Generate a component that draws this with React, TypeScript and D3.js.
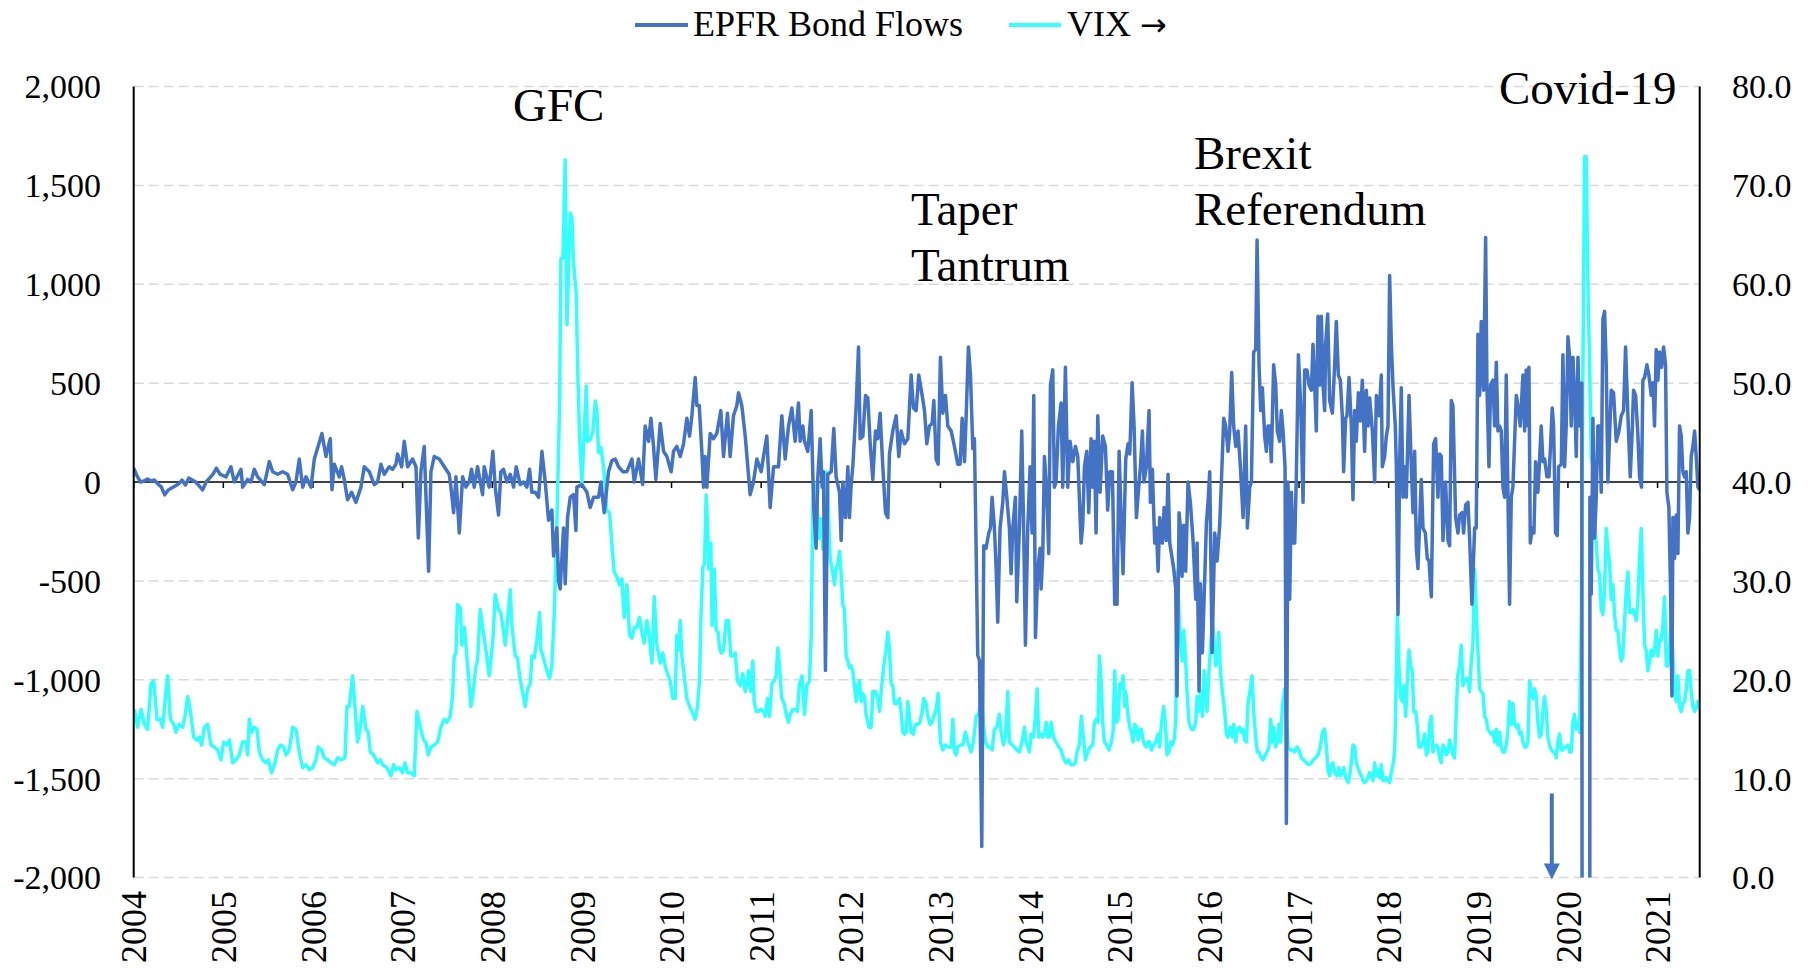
import React, { useEffect } from 'react';
import * as d3 from 'd3';

// ---------- axis definitions ----------
const yearLabels = d3.range(2004, 2022);
const leftTicks = [-2000, -1500, -1000, -500, 0, 500, 1000, 1500, 2000];
const rightTicks = [0, 10, 20, 30, 40, 50, 60, 70, 80];
const xDomain: [number, number] = [2004, 2021.47];

// ---------- EPFR Bond Flows [decimal year, value] ----------
const flows2004to2007: [number, number][] = [
  [2004.000,70],[2004.038,30],[2004.077,0],[2004.115,5],[2004.154,15],[2004.192,5],[2004.231,10],[2004.269,-10],[2004.308,-25],[2004.346,-65],[2004.385,-40],[2004.423,-30],[2004.462,-20],[2004.500,-10],[2004.538,10],[2004.577,-15],[2004.615,20],[2004.654,10],[2004.692,0],[2004.731,-20],[2004.769,-40],[2004.808,0],[2004.846,20],[2004.885,40],[2004.923,70],[2004.962,40],
  [2005.030,26],[2005.085,77],[2005.122,0],[2005.197,64],[2005.215,-26],[2005.271,13],[2005.308,0],[2005.345,64],[2005.383,26],[2005.457,-13],[2005.513,103],[2005.550,52],[2005.606,39],[2005.662,52],[2005.717,39],[2005.773,-39],[2005.810,0],[2005.847,116],[2005.885,-26],[2005.922,26],[2005.978,-26],
  [2006.015,116],[2006.100,245],[2006.145,129],[2006.193,219],[2006.212,-39],[2006.238,90],[2006.293,26],[2006.319,77],[2006.349,13],[2006.386,-90],[2006.431,-52],[2006.479,-103],[2006.535,-26],[2006.572,77],[2006.628,52],[2006.684,-13],[2006.721,0],[2006.758,90],[2006.795,39],[2006.851,77],[2006.888,64],[2006.925,90],[2006.944,142],[2006.989,77],
  [2007.018,206],[2007.056,77],[2007.111,116],[2007.149,77],[2007.175,-283],[2007.204,52],[2007.241,180],[2007.290,-451],[2007.316,52],[2007.353,129],[2007.409,116],[2007.465,77],[2007.520,39],[2007.539,-26],[2007.569,-155],[2007.595,26],[2007.632,-258],[2007.669,26],[2007.706,-26],[2007.743,0],[2007.769,64],[2007.799,-26],[2007.836,77],[2007.892,-64],[2007.910,77],[2007.966,-26],
];

const flows2008to2010: [number, number][] = [
  [2008.007,155],[2008.033,-26],[2008.070,-167],[2008.096,52],[2008.126,64],[2008.163,0],[2008.201,39],[2008.238,-26],[2008.267,77],[2008.312,-13],[2008.349,0],[2008.386,-26],[2008.416,64],[2008.442,-52],[2008.479,-52],[2008.517,-77],[2008.554,155],[2008.591,0],[2008.628,-193],[2008.665,-142],[2008.684,-374],[2008.721,-232],[2008.740,-503],[2008.758,-541],[2008.795,-232],[2008.814,-515],[2008.840,-180],[2008.870,-77],[2008.907,-64],[2008.933,-245],[2008.944,-26],
  [2009.000,-13],[2009.019,-26],[2009.056,-52],[2009.093,-129],[2009.130,-77],[2009.186,-77],[2009.212,0],[2009.249,-155],[2009.297,52],[2009.334,108],[2009.372,116],[2009.409,77],[2009.457,52],[2009.502,52],[2009.558,116],[2009.584,0],[2009.632,116],[2009.677,-13],[2009.706,283],[2009.744,206],[2009.770,322],[2009.799,180],[2009.825,13],[2009.874,296],[2009.911,155],[2009.948,129],[2009.996,52],
  [2010.022,155],[2010.059,180],[2010.097,129],[2010.134,193],[2010.171,322],[2010.201,232],[2010.227,335],[2010.264,528],[2010.283,387],[2010.309,387],[2010.338,155],[2010.357,-26],[2010.375,129],[2010.394,-26],[2010.431,245],[2010.468,219],[2010.505,245],[2010.550,361],[2010.580,129],[2010.624,348],[2010.654,129],[2010.691,335],[2010.729,387],[2010.747,451],[2010.784,387],[2010.822,232],[2010.877,-64],[2010.914,0],[2010.952,116],
];

const flows2011to2013: [number, number][] = [
  [2011.000,52],[2011.026,129],[2011.063,232],[2011.100,-129],[2011.138,77],[2011.193,77],[2011.230,335],[2011.268,116],[2011.305,283],[2011.342,374],[2011.379,206],[2011.416,400],[2011.435,206],[2011.465,283],[2011.483,206],[2011.520,155],[2011.558,361],[2011.584,-103],[2011.613,-335],[2011.632,26],[2011.658,219],[2011.680,-26],[2011.695,52],[2011.717,-953],[2011.743,39],[2011.781,52],[2011.810,271],[2011.836,26],[2011.874,-52],[2011.892,-296],[2011.911,0],[2011.941,-180],[2011.967,77],[2011.985,-180],
  [2012.004,-13],[2012.022,77],[2012.041,232],[2012.060,387],[2012.086,683],[2012.104,219],[2012.134,232],[2012.164,438],[2012.190,425],[2012.216,193],[2012.245,13],[2012.275,258],[2012.301,219],[2012.327,348],[2012.357,77],[2012.387,-155],[2012.413,-180],[2012.431,142],[2012.468,258],[2012.506,335],[2012.535,129],[2012.561,258],[2012.599,193],[2012.636,219],[2012.673,541],[2012.699,374],[2012.729,361],[2012.758,541],[2012.796,438],[2012.822,361],[2012.848,193],[2012.877,283],[2012.907,296],[2012.926,412],[2012.952,116],[2012.974,90],
  [2013.000,631],[2013.026,348],[2013.056,438],[2013.082,283],[2013.119,258],[2013.156,180],[2013.193,90],[2013.219,90],[2013.242,322],[2013.268,103],[2013.286,322],[2013.312,683],[2013.335,541],[2013.361,168],[2013.379,219],[2013.416,-876],[2013.435,-902],[2013.461,-1843],[2013.483,-322],[2013.509,-335],[2013.539,-258],[2013.558,-232],[2013.576,-77],[2013.602,-232],[2013.621,-438],[2013.639,-709],[2013.665,-232],[2013.695,-103],[2013.714,52],[2013.740,-77],[2013.769,-232],[2013.788,-464],[2013.807,-232],[2013.836,-77],[2013.851,-606],[2013.881,-232],[2013.907,258],[2013.929,-258],[2013.948,-825],[2013.974,-232],
];

const flows2014to2016: [number, number][] = [
  [2014.000,77],[2014.022,-258],[2014.041,438],[2014.060,-786],[2014.086,-438],[2014.112,-335],[2014.123,-541],[2014.141,-374],[2014.160,129],[2014.186,-52],[2014.208,-361],[2014.227,490],[2014.253,567],[2014.271,-26],[2014.290,0],[2014.316,283],[2014.346,400],[2014.364,-26],[2014.394,580],[2014.420,-26],[2014.446,206],[2014.476,103],[2014.506,180],[2014.532,129],[2014.569,-309],[2014.587,-219],[2014.606,77],[2014.632,155],[2014.654,-155],[2014.680,219],[2014.699,-26],[2014.717,206],[2014.736,-258],[2014.755,335],[2014.781,-52],[2014.810,232],[2014.840,180],[2014.866,-142],[2014.889,52],[2014.918,52],[2014.944,-618],[2014.970,-618],[2014.993,155],
  [2015.019,-232],[2015.037,-464],[2015.067,116],[2015.093,193],[2015.112,142],[2015.138,502],[2015.160,283],[2015.186,-180],[2015.212,-26],[2015.231,77],[2015.253,258],[2015.271,0],[2015.297,77],[2015.327,361],[2015.342,-103],[2015.364,64],[2015.390,-309],[2015.409,-232],[2015.428,-451],[2015.446,-180],[2015.476,-309],[2015.495,-129],[2015.520,-296],[2015.539,39],[2015.558,-309],[2015.576,-361],[2015.602,-438],[2015.625,-541],[2015.639,-1082],[2015.662,-155],[2015.677,-232],[2015.695,-477],[2015.714,-219],[2015.736,-451],[2015.762,0],[2015.788,-103],[2015.818,-296],[2015.848,-593],[2015.863,-309],[2015.885,-1057],[2015.900,-515],[2015.922,-863],[2015.948,-490],[2015.967,-206],[2015.985,-103],
  [2016.004,52],[2016.030,-863],[2016.060,-258],[2016.086,-399],[2016.115,-219],[2016.134,0],[2016.160,322],[2016.182,283],[2016.208,155],[2016.227,258],[2016.249,554],[2016.271,283],[2016.294,180],[2016.320,258],[2016.346,77],[2016.376,-180],[2016.405,283],[2016.424,-232],[2016.450,-26],[2016.469,0],[2016.494,657],[2016.517,670],[2016.532,1224],[2016.554,593],[2016.573,361],[2016.591,477],[2016.617,232],[2016.636,155],[2016.654,283],[2016.673,283],[2016.691,103],[2016.717,593],[2016.740,490],[2016.758,258],[2016.784,206],[2016.803,361],[2016.822,258],[2016.844,77],[2016.859,-1727],[2016.877,0],[2016.896,-593],[2016.915,-52],[2016.933,-309],[2016.952,-309],[2016.970,26],[2016.993,644],
];

const flows2017to2019: [number, number][] = [
  [2017.019,387],[2017.045,-103],[2017.063,567],[2017.089,567],[2017.112,490],[2017.138,464],[2017.156,696],[2017.175,490],[2017.193,258],[2017.212,838],[2017.231,490],[2017.249,838],[2017.268,490],[2017.286,361],[2017.297,696],[2017.320,850],[2017.342,412],[2017.372,348],[2017.398,593],[2017.416,812],[2017.439,541],[2017.461,515],[2017.483,335],[2017.498,52],[2017.520,322],[2017.535,335],[2017.558,528],[2017.584,283],[2017.602,-90],[2017.621,361],[2017.639,206],[2017.662,451],[2017.684,309],[2017.706,515],[2017.732,155],[2017.751,464],[2017.770,283],[2017.788,425],[2017.818,258],[2017.844,0],[2017.863,438],[2017.892,335],[2017.918,541],[2017.929,77],[2017.955,129],[2017.974,232],[2017.993,283],
  [2018.011,1044],[2018.030,696],[2018.048,490],[2018.074,283],[2018.086,77],[2018.104,-670],[2018.123,103],[2018.141,477],[2018.160,-77],[2018.178,77],[2018.197,-77],[2018.227,438],[2018.253,77],[2018.272,-155],[2018.290,155],[2018.309,-335],[2018.327,-438],[2018.364,13],[2018.383,-232],[2018.409,-258],[2018.431,-387],[2018.450,-399],[2018.476,-580],[2018.502,193],[2018.524,219],[2018.550,-77],[2018.569,142],[2018.587,129],[2018.606,-296],[2018.635,0],[2018.662,-296],[2018.680,-322],[2018.699,412],[2018.717,387],[2018.747,-180],[2018.773,-258],[2018.792,-167],[2018.821,-155],[2018.836,-258],[2018.859,-116],[2018.885,-103],[2018.903,-283],[2018.929,-618],[2018.959,-232],[2018.977,-232],[2018.996,747],
  [2019.015,438],[2019.033,812],[2019.059,464],[2019.082,1237],[2019.096,490],[2019.119,77],[2019.137,490],[2019.163,515],[2019.182,283],[2019.201,606],[2019.219,258],[2019.238,283],[2019.256,258],[2019.275,-26],[2019.293,-77],[2019.312,541],[2019.331,-77],[2019.349,-618],[2019.368,-77],[2019.386,-26],[2019.424,438],[2019.442,387],[2019.468,283],[2019.498,541],[2019.517,258],[2019.535,567],[2019.554,283],[2019.565,580],[2019.580,-309],[2019.602,-232],[2019.621,-258],[2019.639,103],[2019.665,-52],[2019.684,116],[2019.702,283],[2019.721,103],[2019.740,116],[2019.766,26],[2019.788,26],[2019.803,155],[2019.825,374],[2019.840,283],[2019.862,-258],[2019.881,-271],[2019.896,77],[2019.926,90],[2019.944,644],[2019.963,77],[2019.981,283],
];

const flows2020to2021: [number, number][] = [
  [2020.000,734],[2020.019,631],[2020.037,283],[2020.056,631],[2020.074,438],[2020.093,129],[2020.112,631],[2020.130,283],[2020.155,500],[2020.168,-12000],[2020.240,-12000],[2020.245,-77],[2020.260,-567],[2020.279,322],[2020.297,-283],[2020.316,-77],[2020.334,283],[2020.353,283],[2020.372,-52],[2020.390,825],[2020.409,863],[2020.427,593],[2020.446,0],[2020.457,142],[2020.483,464],[2020.509,451],[2020.539,206],[2020.569,258],[2020.595,335],[2020.621,361],[2020.643,683],[2020.669,335],[2020.695,26],[2020.717,258],[2020.732,464],[2020.755,438],[2020.781,232],[2020.799,26],[2020.821,-26],[2020.836,515],[2020.855,528],[2020.881,593],[2020.903,541],[2020.929,438],[2020.948,502],[2020.966,283],[2020.985,670],
  [2021.004,515],[2021.022,657],[2021.045,580],[2021.067,683],[2021.089,593],[2021.104,-52],[2021.126,-129],[2021.145,-541],[2021.160,-1082],[2021.171,-180],[2021.190,-387],[2021.208,-167],[2021.227,-361],[2021.245,283],[2021.264,232],[2021.282,52],[2021.301,26],[2021.320,52],[2021.338,-258],[2021.357,-180],[2021.375,129],[2021.394,180],[2021.413,258],[2021.431,129],[2021.450,-26],[2021.468,-40],
];

// ---------- VIX [decimal year, value] ----------
const vix2004to2007: [number, number][] = [
  [2004.007,17.0],[2004.044,15.2],[2004.082,17.0],[2004.119,15.5],[2004.156,15.0],[2004.193,19.6],[2004.223,19.9],[2004.260,16.0],[2004.297,16.0],[2004.323,15.2],[2004.360,18.8],[2004.379,20.4],[2004.409,16.0],[2004.446,15.5],[2004.472,14.7],[2004.509,15.5],[2004.546,15.2],[2004.572,16.3],[2004.602,18.3],[2004.632,16.8],[2004.669,14.2],[2004.706,13.9],[2004.732,14.2],[2004.758,13.4],[2004.788,15.2],[2004.825,15.5],[2004.862,13.4],[2004.899,13.2],[2004.937,12.9],[2004.974,11.9],
  [2005.003,13.7],[2005.041,13.4],[2005.067,13.9],[2005.104,11.6],[2005.141,11.9],[2005.178,12.4],[2005.215,13.7],[2005.253,13.7],[2005.271,12.4],[2005.290,16.0],[2005.316,14.7],[2005.345,15.2],[2005.375,15.0],[2005.401,12.7],[2005.438,11.9],[2005.476,11.6],[2005.502,11.9],[2005.539,10.6],[2005.576,11.6],[2005.606,12.9],[2005.635,13.4],[2005.673,13.2],[2005.699,12.4],[2005.736,12.9],[2005.773,15.2],[2005.810,15.0],[2005.847,12.7],[2005.885,11.1],[2005.922,11.4],[2005.959,10.9],[2005.996,11.1],
  [2006.033,11.9],[2006.059,13.2],[2006.096,12.9],[2006.126,12.1],[2006.163,11.9],[2006.200,11.6],[2006.238,11.4],[2006.275,12.1],[2006.312,11.9],[2006.357,12.1],[2006.379,17.3],[2006.405,17.3],[2006.442,20.4],[2006.468,17.3],[2006.498,13.7],[2006.528,15.2],[2006.554,17.3],[2006.591,15.0],[2006.617,14.7],[2006.639,12.7],[2006.676,12.4],[2006.721,11.6],[2006.751,11.9],[2006.777,11.4],[2006.825,11.1],[2006.870,10.3],[2006.899,11.4],[2006.925,10.9],[2006.963,11.1],
  [2007.000,10.6],[2007.026,11.6],[2007.056,10.6],[2007.093,10.6],[2007.130,10.3],[2007.160,16.8],[2007.197,15.2],[2007.234,13.9],[2007.260,13.7],[2007.286,12.4],[2007.316,13.2],[2007.353,13.4],[2007.390,13.7],[2007.427,15.2],[2007.465,16.0],[2007.494,15.7],[2007.531,16.3],[2007.557,18.3],[2007.576,22.4],[2007.595,22.7],[2007.613,27.6],[2007.643,27.3],[2007.662,23.5],[2007.688,25.3],[2007.706,23.5],[2007.732,20.6],[2007.762,17.3],[2007.781,18.3],[2007.818,21.4],[2007.836,21.9],[2007.866,27.1],[2007.892,25.3],[2007.929,23.0],[2007.966,20.4],
];

const vix2008to2010: [number, number][] = [
  [2008.007,24.0],[2008.033,28.6],[2008.070,27.1],[2008.096,26.8],[2008.119,25.3],[2008.145,23.5],[2008.171,26.0],[2008.201,29.1],[2008.219,25.5],[2008.256,22.4],[2008.282,22.2],[2008.305,20.4],[2008.331,19.1],[2008.368,17.3],[2008.394,19.1],[2008.424,19.6],[2008.442,22.4],[2008.468,22.2],[2008.498,24.0],[2008.528,26.8],[2008.543,23.0],[2008.572,22.2],[2008.610,20.9],[2008.639,20.1],[2008.665,21.4],[2008.691,26.6],[2008.721,35.8],[2008.751,47.7],[2008.766,62.6],[2008.788,62.6],[2008.814,72.6],[2008.833,55.9],[2008.851,61.6],[2008.870,67.2],[2008.888,66.7],[2008.907,62.1],[2008.937,59.0],[2008.955,50.7],[2008.974,44.6],
  [2009.000,39.9],[2009.019,43.5],[2009.048,49.7],[2009.063,44.1],[2009.093,44.3],[2009.123,45.1],[2009.149,48.2],[2009.167,47.1],[2009.186,43.0],[2009.212,43.5],[2009.242,41.5],[2009.260,39.4],[2009.279,37.1],[2009.308,36.9],[2009.334,33.8],[2009.360,30.9],[2009.390,30.4],[2009.420,29.6],[2009.446,30.2],[2009.472,26.3],[2009.502,29.6],[2009.532,24.5],[2009.558,24.2],[2009.584,25.3],[2009.613,25.3],[2009.643,26.3],[2009.669,24.8],[2009.695,23.7],[2009.725,26.0],[2009.755,24.2],[2009.781,21.7],[2009.807,28.4],[2009.836,23.5],[2009.874,21.7],[2009.903,22.7],[2009.929,21.4],[2009.955,20.6],[2009.985,19.9],
  [2010.015,18.1],[2010.041,18.1],[2010.059,24.5],[2010.078,23.0],[2010.097,26.0],[2010.115,22.4],[2010.141,20.4],[2010.171,18.1],[2010.201,17.3],[2010.227,16.8],[2010.264,16.0],[2010.290,17.3],[2010.312,19.9],[2010.327,26.0],[2010.349,31.4],[2010.368,31.7],[2010.386,38.7],[2010.401,35.8],[2010.416,31.2],[2010.438,33.8],[2010.453,25.5],[2010.476,31.2],[2010.498,25.0],[2010.520,24.8],[2010.535,23.2],[2010.557,22.7],[2010.580,23.0],[2010.610,26.0],[2010.636,26.0],[2010.662,22.4],[2010.684,22.4],[2010.710,22.7],[2010.736,19.9],[2010.766,19.4],[2010.795,20.6],[2010.822,18.8],[2010.840,19.4],[2010.859,20.9],[2010.885,18.8],[2010.907,21.9],[2010.922,17.8],[2010.944,16.8],[2010.970,16.8],[2010.996,17.0],
];

const vix2011to2013: [number, number][] = [
  [2011.026,16.8],[2011.045,16.3],[2011.071,18.1],[2011.093,16.3],[2011.119,19.6],[2011.145,19.9],[2011.167,20.4],[2011.186,23.2],[2011.204,21.4],[2011.230,18.1],[2011.257,17.6],[2011.279,16.5],[2011.305,15.7],[2011.323,16.5],[2011.353,17.0],[2011.379,17.0],[2011.405,16.8],[2011.427,19.6],[2011.457,20.4],[2011.483,16.5],[2011.509,19.4],[2011.539,19.9],[2011.558,24.5],[2011.576,37.4],[2011.595,39.9],[2011.606,34.0],[2011.621,38.4],[2011.643,34.3],[2011.669,36.3],[2011.688,33.2],[2011.714,35.8],[2011.732,41.0],[2011.755,35.8],[2011.770,32.2],[2011.792,31.2],[2011.818,29.6],[2011.836,31.2],[2011.855,31.7],[2011.874,33.0],[2011.892,30.7],[2011.911,27.6],[2011.929,27.1],[2011.948,22.4],[2011.967,21.9],[2011.985,21.2],
  [2012.004,21.4],[2012.022,20.9],[2012.041,19.4],[2012.060,17.8],[2012.078,19.4],[2012.097,19.9],[2012.115,17.8],[2012.134,18.6],[2012.152,18.3],[2012.171,16.5],[2012.201,15.2],[2012.227,15.2],[2012.245,18.8],[2012.275,18.8],[2012.301,18.1],[2012.320,16.8],[2012.338,18.8],[2012.357,20.4],[2012.375,21.9],[2012.394,23.0],[2012.413,24.8],[2012.431,23.0],[2012.450,19.6],[2012.468,19.4],[2012.487,17.6],[2012.513,17.6],[2012.543,18.1],[2012.561,16.8],[2012.580,14.7],[2012.599,14.5],[2012.617,14.7],[2012.636,17.8],[2012.654,16.3],[2012.673,14.7],[2012.699,14.5],[2012.721,15.5],[2012.747,15.5],[2012.773,15.7],[2012.796,16.8],[2012.814,18.1],[2012.840,17.6],[2012.859,16.3],[2012.885,15.5],[2012.907,15.7],[2012.926,16.3],[2012.952,17.0],[2012.974,18.6],
  [2013.000,13.7],[2013.026,12.9],[2013.056,13.4],[2013.082,13.2],[2013.119,13.2],[2013.138,16.0],[2013.156,12.7],[2013.175,12.4],[2013.193,13.2],[2013.219,13.4],[2013.249,13.4],[2013.279,14.7],[2013.305,13.7],[2013.323,13.2],[2013.342,12.7],[2013.368,13.7],[2013.398,16.3],[2013.428,16.5],[2013.454,18.8],[2013.480,15.5],[2013.502,13.7],[2013.528,13.2],[2013.547,13.2],[2013.576,12.9],[2013.602,15.0],[2013.628,15.2],[2013.658,16.5],[2013.677,14.7],[2013.703,13.4],[2013.725,14.2],[2013.751,18.8],[2013.769,13.7],[2013.799,13.4],[2013.825,13.2],[2013.851,12.9],[2013.881,12.7],[2013.911,13.7],[2013.937,15.2],[2013.955,13.7],[2013.974,13.2],[2013.993,12.7],
];

const vix2014to2016: [number, number][] = [
  [2014.011,14.5],[2014.037,14.2],[2014.060,16.3],[2014.078,19.1],[2014.097,14.2],[2014.123,14.5],[2014.141,14.2],[2014.160,14.5],[2014.178,15.7],[2014.197,14.2],[2014.216,14.2],[2014.234,15.7],[2014.260,14.2],[2014.290,13.7],[2014.320,13.2],[2014.346,12.9],[2014.372,12.1],[2014.402,11.6],[2014.431,11.9],[2014.457,11.4],[2014.483,11.4],[2014.506,11.6],[2014.524,12.7],[2014.550,13.4],[2014.572,16.3],[2014.595,14.2],[2014.617,11.9],[2014.643,12.7],[2014.669,13.2],[2014.699,13.4],[2014.717,15.7],[2014.736,16.0],[2014.758,15.7],[2014.773,22.4],[2014.792,19.9],[2014.810,15.7],[2014.829,13.7],[2014.855,13.4],[2014.881,12.9],[2014.907,13.7],[2014.926,14.7],[2014.944,20.9],[2014.963,15.7],[2014.981,16.0],
  [2015.000,19.6],[2015.019,19.1],[2015.037,20.4],[2015.056,17.3],[2015.067,18.8],[2015.093,16.3],[2015.112,15.2],[2015.130,14.7],[2015.149,13.7],[2015.167,15.5],[2015.186,15.2],[2015.205,13.9],[2015.223,15.0],[2015.242,15.0],[2015.260,13.9],[2015.279,13.4],[2015.297,13.2],[2015.316,13.7],[2015.335,13.7],[2015.353,12.9],[2015.379,13.4],[2015.402,13.7],[2015.428,14.5],[2015.446,13.2],[2015.465,15.5],[2015.491,17.3],[2015.509,15.7],[2015.528,12.4],[2015.550,12.7],[2015.569,13.7],[2015.587,13.4],[2015.606,13.9],[2015.625,15.7],[2015.639,30.9],[2015.662,26.6],[2015.677,24.0],[2015.699,21.9],[2015.714,25.0],[2015.736,21.9],[2015.751,18.8],[2015.773,15.7],[2015.799,15.0],[2015.825,15.0],[2015.848,15.7],[2015.863,18.3],[2015.885,16.8],[2015.903,18.8],[2015.922,16.3],[2015.941,20.9],[2015.959,18.8],[2015.974,16.8],[2015.996,20.9],
  [2016.015,23.5],[2016.034,26.0],[2016.052,24.0],[2016.071,21.4],[2016.086,21.9],[2016.104,24.8],[2016.123,20.9],[2016.145,18.8],[2016.171,16.8],[2016.190,14.5],[2016.208,14.2],[2016.234,15.2],[2016.257,14.2],[2016.271,15.5],[2016.294,13.7],[2016.312,15.0],[2016.338,15.2],[2016.357,14.7],[2016.376,15.0],[2016.394,13.9],[2016.413,13.7],[2016.431,17.6],[2016.457,19.1],[2016.476,20.4],[2016.494,16.8],[2016.517,14.2],[2016.535,12.7],[2016.554,12.7],[2016.580,12.1],[2016.599,11.9],[2016.625,12.4],[2016.643,12.7],[2016.665,13.2],[2016.684,16.0],[2016.703,13.7],[2016.717,15.2],[2016.740,13.2],[2016.758,13.7],[2016.777,15.5],[2016.796,13.7],[2016.814,17.3],[2016.840,19.1],[2016.859,16.3],[2016.877,13.2],[2016.903,12.9],[2016.926,12.9],[2016.952,12.7],[2016.978,13.2],
];

const vix2017to2019: [number, number][] = [
  [2017.000,12.9],[2017.026,12.1],[2017.052,11.9],[2017.082,11.6],[2017.112,11.4],[2017.138,11.6],[2017.156,11.9],[2017.186,12.1],[2017.212,12.4],[2017.238,13.2],[2017.260,14.7],[2017.286,15.0],[2017.305,13.2],[2017.323,10.9],[2017.342,10.3],[2017.361,11.4],[2017.379,11.6],[2017.398,10.6],[2017.424,10.3],[2017.446,11.1],[2017.461,10.3],[2017.483,10.6],[2017.498,11.1],[2017.520,10.1],[2017.547,9.6],[2017.565,10.3],[2017.584,11.6],[2017.602,13.4],[2017.621,13.2],[2017.639,11.6],[2017.658,11.1],[2017.677,10.6],[2017.695,10.3],[2017.714,9.8],[2017.732,9.6],[2017.751,9.8],[2017.770,10.1],[2017.788,10.6],[2017.807,10.3],[2017.825,9.8],[2017.844,11.6],[2017.863,10.3],[2017.881,10.9],[2017.900,10.1],[2017.918,11.4],[2017.937,9.8],[2017.955,9.8],[2017.974,10.1],[2017.993,9.8],
  [2018.011,9.6],[2018.030,10.6],[2018.048,11.4],[2018.067,12.7],[2018.086,20.4],[2018.097,26.6],[2018.115,21.4],[2018.134,18.3],[2018.153,17.8],[2018.171,19.4],[2018.190,16.3],[2018.208,19.9],[2018.227,23.0],[2018.245,21.4],[2018.264,20.9],[2018.279,16.8],[2018.301,16.8],[2018.316,15.7],[2018.338,13.2],[2018.364,13.2],[2018.383,13.7],[2018.401,14.5],[2018.420,12.4],[2018.438,12.7],[2018.457,15.5],[2018.476,16.3],[2018.494,12.7],[2018.513,13.2],[2018.531,13.4],[2018.550,13.2],[2018.569,12.1],[2018.587,11.6],[2018.606,13.4],[2018.624,13.2],[2018.643,12.4],[2018.662,12.7],[2018.680,13.9],[2018.699,13.2],[2018.717,12.4],[2018.736,12.1],[2018.754,16.8],[2018.773,20.6],[2018.792,21.4],[2018.810,23.5],[2018.829,19.4],[2018.847,19.9],[2018.866,20.1],[2018.885,20.1],[2018.903,18.8],[2018.922,21.9],[2018.940,23.5],[2018.959,31.2],[2018.977,27.1],[2018.996,23.0],
  [2019.015,19.1],[2019.033,18.8],[2019.052,18.6],[2019.071,16.3],[2019.089,16.0],[2019.108,15.0],[2019.126,14.7],[2019.145,14.5],[2019.163,14.7],[2019.182,13.7],[2019.201,15.0],[2019.219,13.4],[2019.238,14.7],[2019.256,13.2],[2019.275,12.7],[2019.293,12.7],[2019.312,13.4],[2019.331,15.0],[2019.349,17.8],[2019.368,15.5],[2019.386,17.6],[2019.405,15.5],[2019.424,15.2],[2019.442,15.5],[2019.461,14.5],[2019.480,14.7],[2019.498,13.7],[2019.517,13.2],[2019.535,13.2],[2019.554,13.7],[2019.572,19.9],[2019.591,18.8],[2019.610,18.1],[2019.628,19.1],[2019.647,18.3],[2019.665,15.7],[2019.684,14.2],[2019.702,14.5],[2019.721,16.8],[2019.740,18.3],[2019.758,16.8],[2019.777,14.2],[2019.795,13.4],[2019.814,12.9],[2019.833,12.7],[2019.851,12.7],[2019.870,12.1],[2019.888,13.7],[2019.907,14.5],[2019.926,12.9],[2019.944,12.9],[2019.963,13.2],[2019.981,13.2],
];

const vix2020to2021: [number, number][] = [
  [2020.000,13.4],[2020.019,12.7],[2020.037,12.7],[2020.056,15.7],[2020.074,16.5],[2020.093,15.0],[2020.112,15.7],[2020.130,14.7],[2020.149,26.6],[2020.167,51.3],[2020.186,72.9],[2020.204,72.9],[2020.223,60.0],[2020.242,51.8],[2020.260,42.5],[2020.279,41.5],[2020.297,35.8],[2020.316,33.8],[2020.334,31.2],[2020.353,30.7],[2020.372,27.1],[2020.390,26.6],[2020.409,29.1],[2020.427,35.3],[2020.446,33.2],[2020.465,31.7],[2020.483,28.1],[2020.502,29.6],[2020.520,26.6],[2020.539,25.0],[2020.557,25.0],[2020.576,23.0],[2020.595,21.9],[2020.613,22.4],[2020.632,26.0],[2020.651,29.1],[2020.669,30.9],[2020.688,26.8],[2020.706,26.8],[2020.725,27.1],[2020.743,26.6],[2020.762,26.0],[2020.781,28.1],[2020.799,32.2],[2020.818,35.3],[2020.836,29.1],[2020.855,23.5],[2020.874,23.0],[2020.892,20.9],[2020.911,21.9],[2020.929,23.0],[2020.948,22.4],[2020.966,23.0],[2020.985,25.0],
  [2021.004,22.4],[2021.022,24.0],[2021.041,24.0],[2021.060,25.5],[2021.078,28.4],[2021.097,21.4],[2021.115,21.4],[2021.134,23.5],[2021.152,26.0],[2021.171,22.4],[2021.190,18.8],[2021.208,17.8],[2021.227,20.4],[2021.245,17.3],[2021.264,16.8],[2021.282,17.6],[2021.301,17.8],[2021.320,19.1],[2021.338,20.9],[2021.357,20.9],[2021.375,18.8],[2021.394,17.3],[2021.413,16.8],[2021.431,17.3],[2021.450,17.8],[2021.468,17.0],
];

const flowsSeries = [...flows2004to2007, ...flows2008to2010, ...flows2011to2013, ...flows2014to2016, ...flows2017to2019, ...flows2020to2021];
const vixSeries = [...vix2004to2007, ...vix2008to2010, ...vix2011to2013, ...vix2014to2016, ...vix2017to2019, ...vix2020to2021];

const annotations = [
  { lines: ['GFC'], x: 513, y: 121 },
  { lines: ['Taper', 'Tantrum'], x: 911, y: 225 },
  { lines: ['Brexit', 'Referendum'], x: 1194, y: 169 },
  { lines: ['Covid-19'], x: 1499, y: 104 },
];

const FLOW_COLOR = '#4472C4';
const VIX_COLOR = '#33FFFF';
const FONT = "'Liberation Serif', 'Times New Roman', serif";

export default function App() {
  useEffect(() => {
    document.body.style.margin = '0';
    document.body.style.overflow = 'hidden';
  }, []);

  const W = 1808, H = 973;
  const left = 133.7, right = 1699.7, top = 86.5, bottom = 877.5;

  const x = d3.scaleLinear().domain(xDomain).range([left, right]);
  const yL = d3.scaleLinear().domain([-2000, 2000]).range([bottom, top]);
  const yR = d3.scaleLinear().domain([0, 80]).range([bottom, top]);

  const flowLine = d3.line<[number, number]>().x(d => x(d[0])).y(d => yL(d[1]));
  const vixLine = d3.line<[number, number]>().x(d => x(d[0])).y(d => yR(d[1]));

  const fmtL = (v: number) => (v < 0 ? '-' : '') + d3.format(',')(Math.abs(v));
  const fmtR = d3.format('.1f');

  const arrowX = x(2019.82);
  const arrowTop = yL(-1575);
  const arrowBottom = yL(-2000);

  return (
    <svg width={W} height={H} style={{ position: 'absolute', left: 0, top: 0, background: '#fff' }} fontFamily={FONT}>
      <defs>
        <clipPath id="plotClip">
          <rect x={left} y={top} width={right - left} height={bottom - top} />
        </clipPath>
      </defs>

      {/* gridlines */}
      {leftTicks.filter(t => t !== 0).map(t => (
        <line key={'g' + t} x1={left} x2={right} y1={yL(t)} y2={yL(t)} stroke="#D9D9D9" strokeWidth={1.5} strokeDasharray="10 5" />
      ))}

      {/* zero line with year ticks */}
      <line x1={left} x2={right} y1={yL(0)} y2={yL(0)} stroke="#000" strokeWidth={1.5} />
      {yearLabels.map(yr => (
        <line key={'t' + yr} x1={x(yr)} x2={x(yr)} y1={yL(0)} y2={yL(0) + 6} stroke="#000" strokeWidth={1.5} />
      ))}

      {/* series */}
      <g clipPath="url(#plotClip)">
        <path d={vixLine(vixSeries) || ''} fill="none" stroke={VIX_COLOR} strokeWidth={3.5} strokeLinejoin="round" />
        <path d={flowLine(flowsSeries) || ''} fill="none" stroke={FLOW_COLOR} strokeWidth={3.5} strokeLinejoin="round" />
      </g>

      {/* axes lines */}
      <line x1={left} x2={left} y1={top} y2={bottom} stroke="#000" strokeWidth={2} />
      <line x1={right} x2={right} y1={top} y2={bottom} stroke="#000" strokeWidth={2} />

      {/* left tick labels */}
      {leftTicks.map(t => (
        <text key={'l' + t} x={101} y={yL(t)} dy="0.35em" textAnchor="end" fontSize={34} fill="#000">{fmtL(t)}</text>
      ))}
      {/* right tick labels */}
      {rightTicks.map(t => (
        <text key={'r' + t} x={1732} y={yR(t)} dy="0.35em" textAnchor="start" fontSize={34} fill="#000">{fmtR(t)}</text>
      ))}
      {/* year labels */}
      {yearLabels.map(yr => (
        <text key={'y' + yr} transform={`translate(${x(yr)},891) rotate(-90)`} dy="0.35em" textAnchor="end" fontSize={36} fill="#000">{yr}</text>
      ))}

      {/* annotations */}
      {annotations.map((a, i) => (
        <text key={'a' + i} x={a.x} y={a.y} fontSize={47} fill="#000">
          {a.lines.map((ln, j) => (
            <tspan key={j} x={a.x} dy={j === 0 ? 0 : 56}>{ln}</tspan>
          ))}
        </text>
      ))}

      {/* arrow */}
      <line x1={arrowX} x2={arrowX} y1={arrowTop} y2={arrowBottom - 12} stroke={FLOW_COLOR} strokeWidth={4} />
      <path d={`M${arrowX - 8},${arrowBottom - 14} L${arrowX + 8},${arrowBottom - 14} L${arrowX},${arrowBottom + 2} Z`} fill={FLOW_COLOR} />

      {/* legend */}
      <line x1={635} x2={688} y1={25} y2={25} stroke={FLOW_COLOR} strokeWidth={4} />
      <text x={693} y={36} fontSize={36} fill="#000">EPFR Bond Flows</text>
      <line x1={1009} x2={1061} y1={25} y2={25} stroke={VIX_COLOR} strokeWidth={4} />
      <text x={1067} y={36} fontSize={36} fill="#000">VIX <tspan fontFamily="'DejaVu Sans', sans-serif" fontSize={32}>→</tspan></text>
    </svg>
  );
}
